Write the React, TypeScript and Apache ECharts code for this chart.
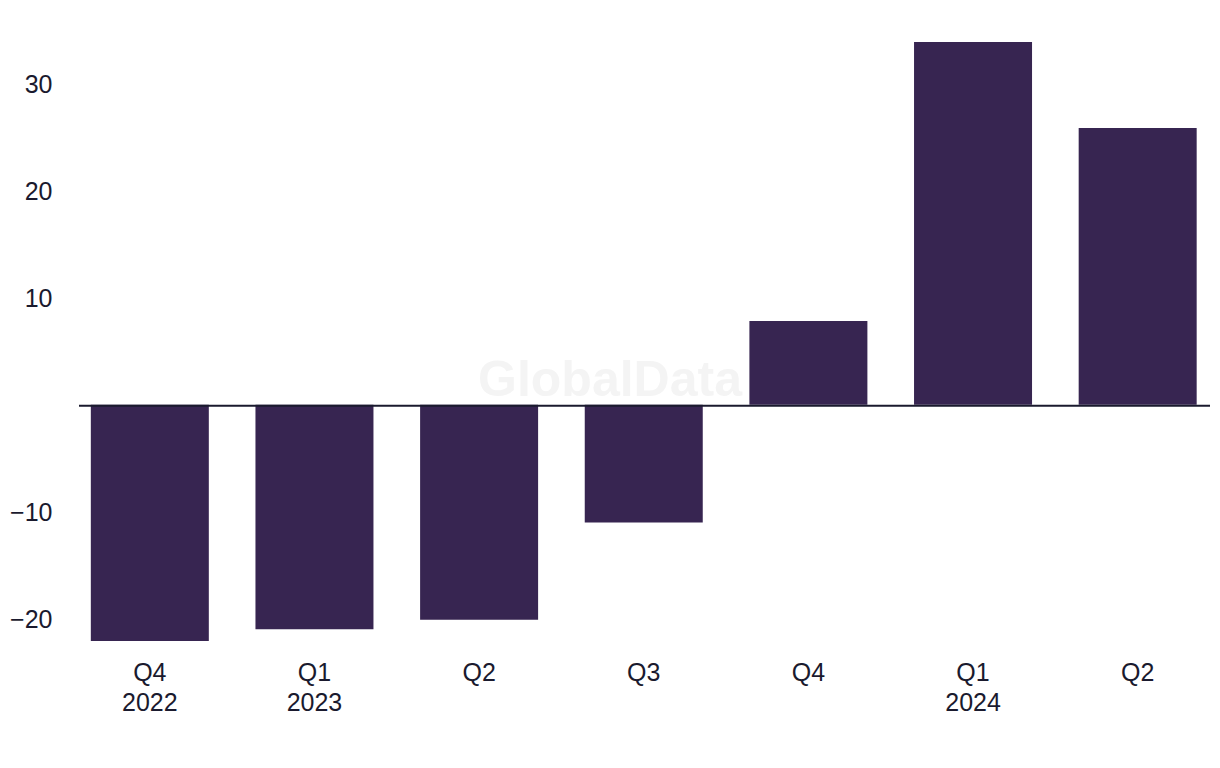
import React, { useEffect, useRef } from "react";
import * as echarts from "echarts";

const categories = ["Q4\n2022", "Q1\n2023", "Q2", "Q3", "Q4", "Q1\n2024", "Q2"];
const values = [-22.1, -21.0, -20.1, -11.0, 7.85, 33.95, 25.9];
const yTicks = [-20, -10, 10, 20, 30];

export default function App() {
  const ref = useRef<HTMLDivElement>(null);
  useEffect(() => {
    if (!ref.current) return;
    const chart = echarts.init(ref.current, undefined, { renderer: "svg" });
    const font = "Liberation Sans";
    const watermark = {
      type: "text",
      left: "center",
      top: 354,
      z: 0,
      style: {
        text: "GlobalData",
        fontFamily: font,
        fontWeight: "bold",
        fontSize: 50,
        fill: "#f4f4f4",
      },
    };
    chart.setOption({
      animation: false,
      grid: { left: 67.5, top: 42, width: 1159, bottom: 127, containLabel: false },
      xAxis: {
        type: "category",
        data: categories,
        axisLine: { show: false },
        axisTick: { show: false },
        axisLabel: {
          color: "#1a1a2e",
          fontFamily: font,
          fontSize: 25,
          lineHeight: 30,
          margin: 16,
          interval: 0,
        },
      },
      yAxis: {
        type: "value",
        min: -22.1,
        max: 33.95,
        interval: 10,
        splitLine: { show: false },
        axisLine: { show: false },
        axisTick: { show: false },
        axisLabel: {
          color: "#1a1a2e",
          fontFamily: font,
          fontSize: 25,
          margin: 15,
          customValues: yTicks,
          formatter: (v: number) => (v < 0 ? "\u2212" + Math.abs(v) : String(v)),
        },
      },
      graphic: [watermark],
      series: [
        {
          type: "bar",
          data: values,
          barWidth: 118,
          z: 2,
          itemStyle: { color: "#372551" },
        },
      ],
    });
    const y0 = chart.convertToPixel({ yAxisIndex: 0 }, 0) as number;
    chart.setOption({
      graphic: [
        watermark,
        {
          type: "line",
          z: 10,
          shape: { x1: 79, y1: y0 + 1, x2: 1210, y2: y0 + 1 },
          style: { stroke: "#1a1a2e", lineWidth: 2 },
        },
      ],
    });
    return () => chart.dispose();
  }, []);
  return <div ref={ref} style={{ width: 1220, height: 768, position: "absolute", left: 0, top: 0 }} />;
}
